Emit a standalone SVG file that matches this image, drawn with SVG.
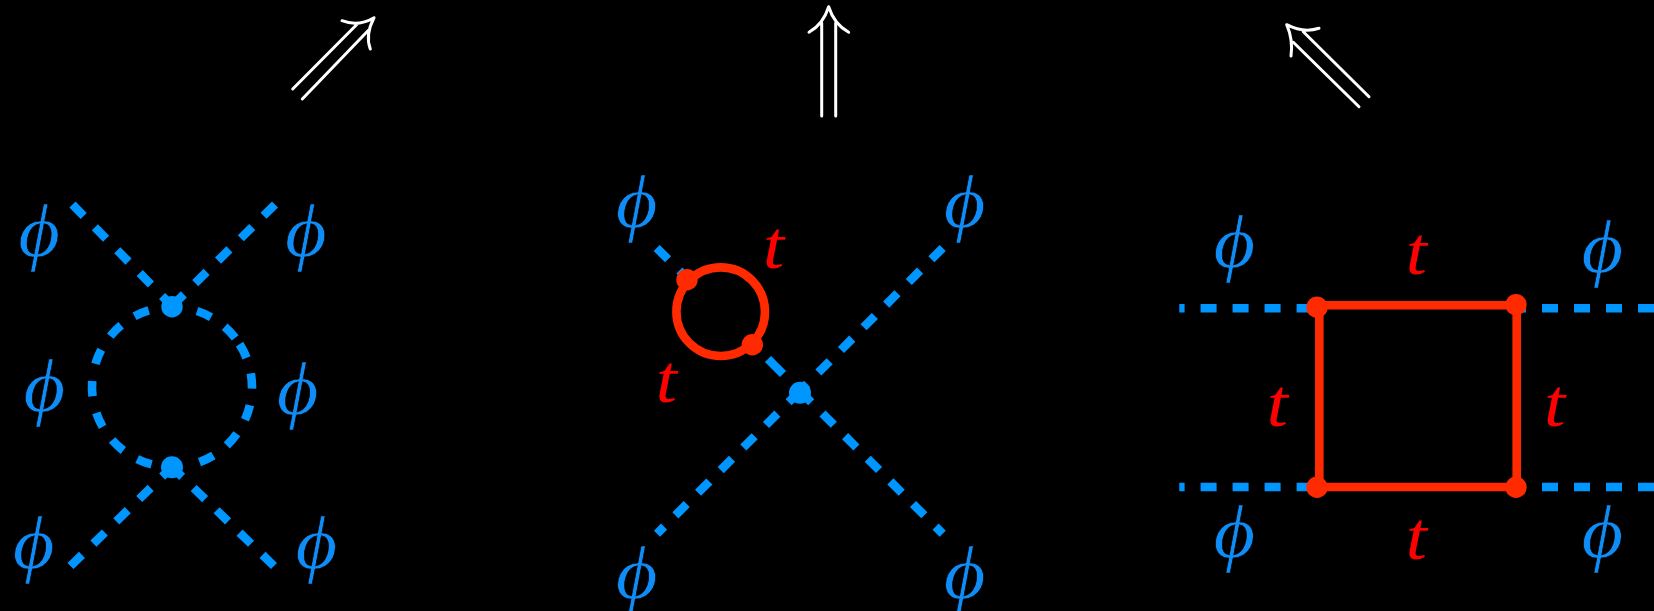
<svg xmlns="http://www.w3.org/2000/svg" xmlns:xlink="http://www.w3.org/1999/xlink" width="1654" height="611" viewBox="0 0 1654 611">
<style>
.bg{fill:#000}
.sc{fill:none;stroke:#0096ff;stroke-width:8.6;stroke-dasharray:16 16}
.arcd{fill:none;stroke:#0096ff;stroke-width:8.6}
.top{fill:none;stroke:#ff2a00;stroke-width:8.6}
.bv{fill:#0096ff}
.rv{fill:#ff2a00}
.ar{fill:none;stroke:#fff;stroke-width:3;stroke-linecap:round}
.phi{font-family:"Liberation Serif",serif;font-style:italic;font-size:74px;fill:#0f8cf5;text-anchor:middle;stroke:#000;stroke-width:0.6}
.t{font-family:"Liberation Serif",serif;font-style:italic;font-size:68px;fill:#f00}
</style>
<defs><path id="d" d="M79.63 -7.67A80 80 0 0 1 79.63 7.67"/></defs>
<rect class="bg" width="1654" height="611"/>
<g id="connectors">
<g id="arrows">
<path class="ar" d="M292.7 89L357.3 24M302.3 99L368.7 30M342 20.7Q358 27 374 17.7M370.3 49Q365 35 374 17.7"/>
<path class="ar" d="M821.7 116V23M835.7 116V23M809 32.3Q823.3 24 828.7 6.7M848.7 32.3Q834 24 828.7 6.7"/>
<path class="ar" d="M1369 96.7L1303.3 31.7M1359 106.7L1293.3 42.3M1319 28.3Q1303.3 33.3 1286.7 24.7M1291 56Q1293.3 40 1286.7 24.7"/>
</g>
<g id="left-lines">
<path class="sc" d="M72.5 204.5L172 306"/>
<path class="sc" d="M275 204.5L172 306"/>
<path class="sc" d="M70.5 566L172 467"/>
<path class="sc" d="M274 566L172 467"/>
<g class="arcd">
<use xlink:href="#d" href="#d" transform="translate(172 387) rotate(178.8)"/>
<use xlink:href="#d" href="#d" transform="translate(172 387) rotate(202.3)"/>
<use xlink:href="#d" href="#d" transform="translate(172 387) rotate(225)"/>
<use xlink:href="#d" href="#d" transform="translate(172 387) rotate(247.6)"/>
<use xlink:href="#d" href="#d" transform="translate(172 387) rotate(293.7)"/>
<use xlink:href="#d" href="#d" transform="translate(172 387) rotate(316.7)"/>
<use xlink:href="#d" href="#d" transform="translate(172 387) rotate(333.1)"/>
<use xlink:href="#d" href="#d" transform="translate(172 387) rotate(355.7)"/>
<use xlink:href="#d" href="#d" transform="translate(172 387) rotate(18.7)"/>
<use xlink:href="#d" href="#d" transform="translate(172 387) rotate(41.3)"/>
<use xlink:href="#d" href="#d" transform="translate(172 387) rotate(64.4)"/>
<use xlink:href="#d" href="#d" transform="translate(172 387) rotate(110.3)"/>
<use xlink:href="#d" href="#d" transform="translate(172 387) rotate(133)"/>
<use xlink:href="#d" href="#d" transform="translate(172 387) rotate(155.6)"/>
</g>
</g>
<g id="middle-lines">
<path class="sc" d="M942.7 248L800 391"/>
<path class="sc" stroke-dashoffset="6" d="M657 533.7L800 391"/>
<path class="sc" stroke-dashoffset="6" d="M942.7 533.7L800 391"/>
<path class="sc" d="M656.7 248L690 281"/>
<path class="arcd" d="M768 359L783 374"/>
<circle class="top" cx="720.7" cy="311.7" r="44.3"/>
</g>
<g id="right-lines">
<path class="sc" stroke-dashoffset="10.7" d="M1179.3 308.3H1312"/>
<path class="sc" stroke-dashoffset="10.7" d="M1179.3 487H1312"/>
<path class="sc" d="M1510 308.3H1654"/>
<path class="sc" d="M1510 487H1654"/>
<path class="top" d="M1319.3 305.3H1516.7V487H1319.3Z"/>
</g>
</g>
<g id="vertices">
<circle id="v1" class="bv" cx="172" cy="306.7" r="10.7"/>
<circle id="v2" class="bv" cx="172" cy="467.3" r="11"/>
<circle id="v3" class="bv" cx="800" cy="392.7" r="11"/>
<circle id="v4" class="rv" cx="687" cy="279.7" r="10.7"/>
<circle id="v5" class="rv" cx="752.3" cy="344.7" r="10.7"/>
<circle id="v6" class="rv" cx="1317" cy="307.3" r="10.7"/>
<circle id="v7" class="rv" cx="1516" cy="304.7" r="10.7"/>
<circle id="v8" class="rv" cx="1317" cy="487.3" r="10.7"/>
<circle id="v9" class="rv" cx="1516" cy="487.3" r="10.7"/>
</g>
<g id="labels">
<text class="phi" transform="translate(39.2 256) scale(1.09 1)">ϕ</text>
<text class="phi" transform="translate(305.8 256) scale(1.09 1)">ϕ</text>
<text class="phi" transform="translate(44.3 411) scale(1.09 1)">ϕ</text>
<text class="phi" transform="translate(297.7 414) scale(1.09 1)">ϕ</text>
<text class="phi" transform="translate(33.7 568) scale(1.09 1)">ϕ</text>
<text class="phi" transform="translate(316.3 568) scale(1.09 1)">ϕ</text>
<text class="phi" transform="translate(636.7 227) scale(1.09 1)">ϕ</text>
<text class="phi" transform="translate(964.7 227) scale(1.09 1)">ϕ</text>
<text class="phi" transform="translate(636.7 598) scale(1.09 1)">ϕ</text>
<text class="phi" transform="translate(964.7 598) scale(1.09 1)">ϕ</text>
<text class="phi" transform="translate(1234.3 267) scale(1.09 1)">ϕ</text>
<text class="phi" transform="translate(1602.3 272) scale(1.09 1)">ϕ</text>
<text class="phi" transform="translate(1234.3 557) scale(1.09 1)">ϕ</text>
<text class="phi" transform="translate(1602.3 557) scale(1.09 1)">ϕ</text>
<text class="t" transform="translate(763 268) scale(1.12 1)">t</text>
<text class="t" transform="translate(655.7 401.7) scale(1.12 1)">t</text>
<text class="t" transform="translate(1405.7 274) scale(1.12 1)">t</text>
<text class="t" transform="translate(1266.7 426) scale(1.12 1)">t</text>
<text class="t" transform="translate(1544 426) scale(1.12 1)">t</text>
<text class="t" transform="translate(1405.7 559.3) scale(1.12 1)">t</text>
</g>
</svg>
